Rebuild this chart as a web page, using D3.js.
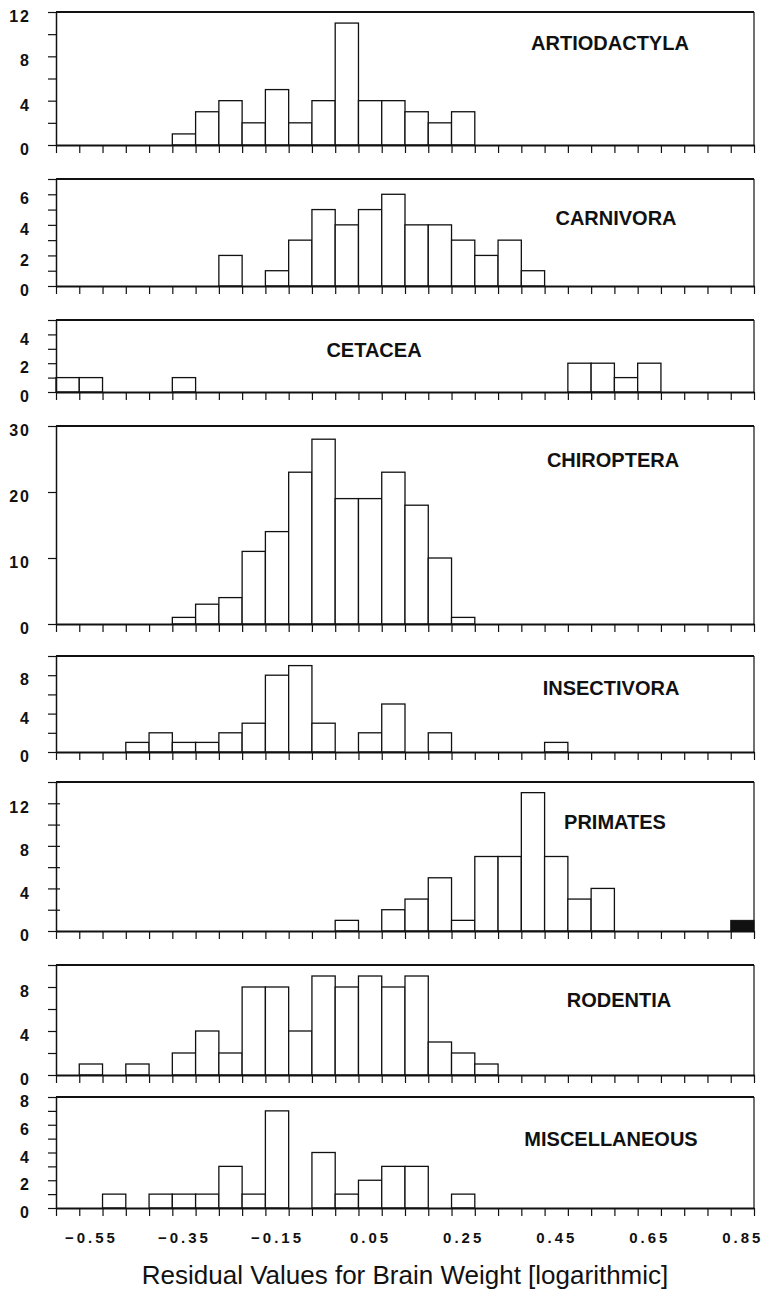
<!DOCTYPE html>
<html>
<head>
<meta charset="utf-8">
<script src="https://cdn.jsdelivr.net/npm/d3@7"></script>
<style>
  body { margin: 0; background: #fff; }
  svg { display: block; }
  text { font-family: "Liberation Sans", Arial, sans-serif; fill: #111; }
</style>
</head>
<body>
<div id="chart"></div>
<script>
// bin centres of the residuals (bins are 0.05 wide)
var binCenters = [-0.60, -0.55, -0.50, -0.45, -0.40, -0.35, -0.30, -0.25, -0.20, -0.15,
                  -0.10, -0.05, 0.00, 0.05, 0.10, 0.15, 0.20, 0.25, 0.30, 0.35,
                  0.40, 0.45, 0.50, 0.55, 0.60, 0.65, 0.70, 0.75, 0.80, 0.85];
var xTickLabels = [-0.55, -0.35, -0.15, 0.05, 0.25, 0.45, 0.65, 0.85];
var xTitle = "Residual Values for Brain Weight [logarithmic]";

// counts per bin, one array per order
var artiodactyla = [0,0,0,0,0,1,3,4,2,5,2,4,11,4,4,3,2,3,0,0,0,0,0,0,0,0,0,0,0,0];
var carnivora    = [0,0,0,0,0,0,0,2,0,1,3,5,4,5,6,4,4,3,2,3,1,0,0,0,0,0,0,0,0,0];
var cetacea      = [1,1,0,0,0,1,0,0,0,0,0,0,0,0,0,0,0,0,0,0,0,0,2,2,1,2,0,0,0,0];
var chiroptera   = [0,0,0,0,0,1,3,4,11,14,23,28,19,19,23,18,10,1,0,0,0,0,0,0,0,0,0,0,0,0];
var insectivora  = [0,0,0,1,2,1,1,2,3,8,9,3,0,2,5,0,2,0,0,0,0,1,0,0,0,0,0,0,0,0];
var primates     = [0,0,0,0,0,0,0,0,0,0,0,0,1,0,2,3,5,1,7,7,13,7,3,4,0,0,0,0,0,0];
var primatesDark = [0,0,0,0,0,0,0,0,0,0,0,0,0,0,0,0,0,0,0,0,0,0,0,0,0,0,0,0,0,1];
var rodentia     = [0,1,0,1,0,2,4,2,8,8,4,9,8,9,8,9,3,2,1,0,0,0,0,0,0,0,0,0,0,0];
var misc         = [0,0,1,0,1,1,1,3,1,7,0,4,1,2,3,3,0,1,0,0,0,0,0,0,0,0,0,0,0,0];

var W = 769, H = 1292;
var left = 56, right = 754;

var panels = [
  {name: "ARTIODACTYLA",  counts: artiodactyla, top: 12,  bottom: 145,  ymax: 12, step: 2,  lstep: 4,  lx: 610, ly: 43},
  {name: "CARNIVORA",     counts: carnivora,    top: 179, bottom: 286,  ymax: 7,  step: 1,  lstep: 2,  lx: 616, ly: 218},
  {name: "CETACEA",       counts: cetacea,      top: 320, bottom: 392,  ymax: 5,  step: 1,  lstep: 2,  lx: 374, ly: 350},
  {name: "CHIROPTERA",    counts: chiroptera,   top: 426, bottom: 624,  ymax: 30, step: 10, lstep: 10, lx: 613, ly: 460},
  {name: "INSECTIVORA",   counts: insectivora,  top: 656, bottom: 752,  ymax: 10, step: 2,  lstep: 4,  lx: 611, ly: 688},
  {name: "PRIMATES",      counts: primates,     top: 782, bottom: 931,  ymax: 14, step: 2,  lstep: 4,  lx: 615, ly: 822, dark: primatesDark, cross: true},
  {name: "RODENTIA",      counts: rodentia,     top: 965, bottom: 1075, ymax: 10, step: 2,  lstep: 4,  lx: 619, ly: 1000},
  {name: "MISCELLANEOUS", counts: misc,         top: 1097, bottom: 1208, ymax: 8, step: 1,  lstep: 2,  lx: 611, ly: 1139}
];

var svg = d3.select("#chart").append("svg")
  .attr("width", W)
  .attr("height", H);

svg.append("rect").attr("width", W).attr("height", H).attr("fill", "#fff");

var half = 0.025;
var x = d3.scaleLinear()
  .domain([binCenters[0] - half, binCenters[binCenters.length - 1] + half])
  .range([left, right]);

// bin edges for the x ticks
var edges = binCenters.map(function(c) { return c - half; }).concat([binCenters[binCenters.length - 1] + half]);

panels.forEach(function(p, pi) {
  var y = d3.scaleLinear().domain([0, p.ymax]).range([p.bottom, p.top]);
  var g = svg.append("g");

  // top and right border
  g.append("line").attr("x1", left).attr("x2", right).attr("y1", p.top).attr("y2", p.top)
    .attr("stroke", "#111").attr("stroke-width", 2);
  g.append("line").attr("x1", right).attr("x2", right).attr("y1", p.top).attr("y2", p.bottom)
    .attr("stroke", "#111").attr("stroke-width", 1.2);

  // bars
  g.selectAll("rect.bar")
    .data(binCenters.map(function(c, i) { return {c: c, v: p.counts[i]}; }).filter(function(d) { return d.v > 0; }))
    .enter().append("rect")
    .attr("class", "bar")
    .attr("x", function(d) { return x(d.c - half); })
    .attr("width", function(d) { return x(d.c + half) - x(d.c - half); })
    .attr("y", function(d) { return y(d.v); })
    .attr("height", function(d) { return y(0) - y(d.v); })
    .attr("fill", "#fff")
    .attr("stroke", "#111")
    .attr("stroke-width", 1.3);

  if (p.dark) {
    g.selectAll("rect.dark")
      .data(binCenters.map(function(c, i) { return {c: c, v: p.dark[i]}; }).filter(function(d) { return d.v > 0; }))
      .enter().append("rect")
      .attr("class", "dark")
      .attr("x", function(d) { return x(d.c - half); })
      .attr("width", function(d) { return x(d.c + half) - x(d.c - half); })
      .attr("y", function(d) { return y(d.v); })
      .attr("height", function(d) { return y(0) - y(d.v); })
      .attr("fill", "#111")
      .attr("stroke", "#111");
  }

  // y axis
  var yTicks = d3.range(0, p.ymax + p.step / 2, p.step);
  var yAxis = d3.axisLeft(y)
    .tickValues(yTicks)
    .tickSizeInner(p.cross ? -3 : 0)
    .tickSize(8)
    .tickSizeOuter(0)
    .tickPadding(17)
    .tickFormat(function(d) { return d % p.lstep === 0 ? d : ""; });
  var ya = g.append("g").attr("transform", "translate(" + left + ",0)").call(yAxis);
  ya.select(".domain").attr("stroke", "#111").attr("stroke-width", 1.5);
  ya.selectAll(".tick line").attr("stroke", "#111").attr("stroke-width", 1.2);
  if (p.cross) ya.selectAll(".tick line").attr("x2", 4).attr("x1", -8);
  ya.selectAll(".tick text")
    .attr("dy", "0.6em")
    .style("font-family", "'Liberation Sans', Arial, sans-serif")
    .style("font-size", "16px")
    .style("font-weight", "bold")
    .style("letter-spacing", "2px")
    .attr("fill", "#111");

  // x axis (bin edges)
  var xAxis = d3.axisBottom(x)
    .tickValues(edges)
    .tickSize(8)
    .tickSizeOuter(0)
    .tickFormat("");
  var xa = g.append("g").attr("transform", "translate(0," + p.bottom + ")").call(xAxis);
  xa.select(".domain").attr("stroke", "#111").attr("stroke-width", 2);
  xa.selectAll(".tick line").attr("stroke", "#111").attr("stroke-width", 1.2);

  // order name
  g.append("text")
    .attr("x", p.lx)
    .attr("y", p.ly + 7)
    .attr("text-anchor", "middle")
    .style("font-size", "20px")
    .style("font-weight", "bold")
    .text(p.name);

  // x labels only under the last panel
  if (pi === panels.length - 1) {
    var labAxis = d3.axisBottom(x)
      .tickValues(xTickLabels)
      .tickSize(0)
      .tickPadding(24)
      .tickFormat(d3.format(".2f"));
    var la = g.append("g").attr("transform", "translate(0," + p.bottom + ")").call(labAxis);
    la.select(".domain").remove();
    la.selectAll(".tick text")
      .style("font-family", "'Liberation Sans', Arial, sans-serif")
      .style("font-size", "15px")
      .style("font-weight", "bold")
      .style("letter-spacing", "3px")
      .attr("fill", "#111");
  }
});

svg.append("text")
  .attr("x", 405)
  .attr("y", 1284)
  .attr("text-anchor", "middle")
  .style("font-size", "26px")
  .text(xTitle);
</script>
</body>
</html>
